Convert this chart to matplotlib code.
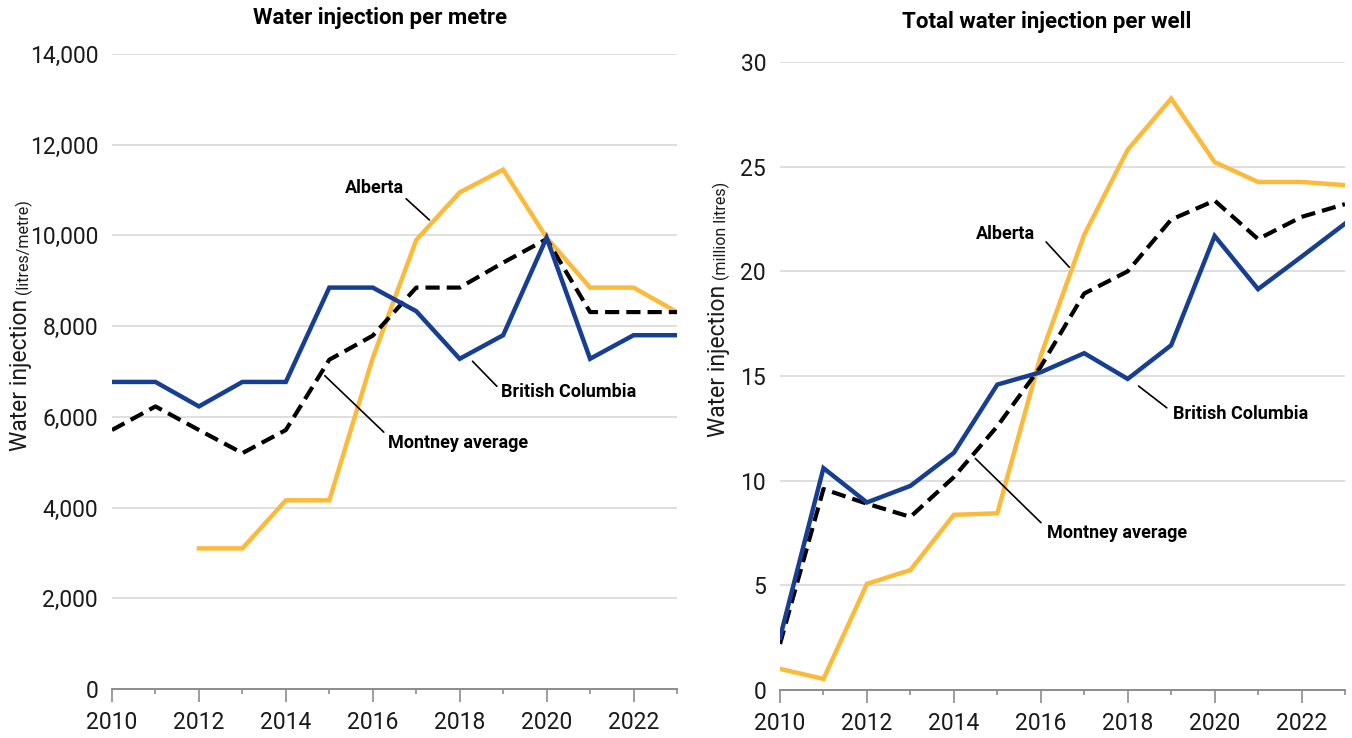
import matplotlib
matplotlib.use("Agg")
import matplotlib.pyplot as plt

plt.rcParams['font.family'] = ['Roboto', 'DejaVu Sans']

years = list(range(2010, 2024))

# Left: water injection per metre (litres/metre)
bc_metre = [6770, 6770, 6230, 6770, 6770, 8850, 8850, 8330, 7280, 7800, 9950, 7280, 7800, 7800]
ab_metre = [None, None, 3100, 3100, 4160, 4160, 7300, 9900, 10950, 11450, 9950, 8850, 8850, 8310]
mt_metre = [5710, 6230, 5710, 5200, 5710, 7260, 7790, 8850, 8850, 9400, 9920, 8310, 8310, 8310]

# Right: total water injection per well (million litres)
bc_well = [2.5, 10.6, 8.96, 9.75, 11.33, 14.59, 15.18, 16.09, 14.86, 16.47, 21.69, 19.15, 20.7, 22.28]
ab_well = [1.01, 0.53, 5.07, 5.73, 8.37, 8.44, 15.98, 21.75, 25.81, 28.25, 25.22, 24.27, 24.27, 24.12]
mt_well = [2.2, 9.6, 8.9, 8.27, 10.17, 12.6, 15.45, 18.94, 20.0, 22.47, 23.38, 21.54, 22.6, 23.21]

left_yticks = [0, 2000, 4000, 6000, 8000, 10000, 12000, 14000]
right_yticks = [0, 5, 10, 15, 20, 25, 30]
xtick_labels = [2010, 2012, 2014, 2016, 2018, 2020, 2022]

YELLOW = '#FDB93A'
BLUE = '#163E93'
BLACK = '#000000'
GRID = '#D9D9D9'
AXIS = '#8C8C8C'

W, H = 1352, 738
fig = plt.figure(figsize=(W / 100, H / 100), dpi=100)


def px_axes(l, r, t, b):
    return fig.add_axes([l / W, 1 - b / H, (r - l) / W, (b - t) / H])


def style(ax, ymax, yticks, fmt):
    ax.set_xlim(2010, 2023)
    ax.set_ylim(0, ymax)
    ax.set_yticks(yticks)
    ax.set_yticklabels([fmt(v) for v in yticks], fontsize=16.5, color='#1a1a1a')
    ax.set_xticks(xtick_labels)
    ax.set_xticklabels([str(v) for v in xtick_labels], fontsize=16.5, color='#1a1a1a')
    ax.set_xticks([y for y in years if y not in xtick_labels], minor=True)
    ax.tick_params(axis='x', which='major', length=9, width=1.2, color=AXIS, pad=7)
    ax.tick_params(axis='x', which='minor', length=3.5, width=1.2, color=AXIS)
    ax.tick_params(axis='y', length=0, pad=10)
    for s in ['top', 'right', 'left']:
        ax.spines[s].set_visible(False)
    ax.spines['bottom'].set_color(AXIS)
    ax.spines['bottom'].set_linewidth(1.4)
    ax.grid(axis='y', color=GRID, linewidth=1.2)
    ax.set_axisbelow(True)


def plot_lines(ax, bc, ab, mt):
    yb = [y for y, v in zip(years, ab) if v is not None]
    vb = [v for v in ab if v is not None]
    ax.plot(yb, vb, color=YELLOW, lw=3.2, solid_joinstyle='miter', zorder=3)
    ax.plot(years, mt, color=BLACK, lw=3.0, ls=(0, (3.4, 1.7)), zorder=4)
    ax.plot(years, bc, color=BLUE, lw=3.2, solid_joinstyle='miter', zorder=5)


def annotate(ax, text, xy_text, xy_line_start, xy_line_end, ha='left'):
    # all in data coords
    ax.annotate('', xy=xy_line_end, xytext=xy_line_start,
                arrowprops=dict(arrowstyle='-', color='black', lw=1.2), zorder=6)
    ax.text(xy_text[0], xy_text[1], text, fontsize=13, fontweight='bold',
            ha=ha, va='center', zorder=7)


# ---- Left chart ----
ax1 = px_axes(112, 677, 54, 689)
style(ax1, 14000, left_yticks, lambda v: f"{v:,}")
plot_lines(ax1, bc_metre, ab_metre, mt_metre)
fig.text(380 / W, 1 - 18 / H, 'Water injection per metre', fontsize=16,
         fontweight='bold', ha='center', va='center')

annotate(ax1, 'Alberta', (2015.35, 11050), (2016.72, 10850), (2017.35, 10300))
annotate(ax1, 'British Columbia', (2018.95, 6550), (2018.25, 7270), (2018.9, 6630))
annotate(ax1, 'Montney average', (2016.35, 5420), (2014.85, 6950), (2016.3, 5620))

# ---- Right chart ----
ax2 = px_axes(780, 1345, 62, 690)
style(ax2, 30, right_yticks, lambda v: f"{v}")
plot_lines(ax2, bc_well, ab_well, mt_well)
fig.text(1047 / W, 1 - 22 / H, 'Total water injection per well', fontsize=16,
         fontweight='bold', ha='center', va='center')

annotate(ax2, 'Alberta', (2014.5, 21.8), (2016.08, 21.5), (2016.7, 20.1))
annotate(ax2, 'British Columbia', (2019.05, 13.2), (2018.2, 14.6), (2018.95, 13.4))
annotate(ax2, 'Montney average', (2016.15, 7.5), (2014.45, 11.15), (2016.05, 7.9))

# ---- Y labels made of two pieces ----
fig.canvas.draw()
renderer = fig.canvas.get_renderer()


def ylabel_two(xpx, ystart_px, main, sub, main_fs=16.5, sub_fs=11.5):
    t1 = fig.text(xpx / W, 1 - ystart_px / H, main, fontsize=main_fs, rotation=90,
                  rotation_mode='anchor', ha='left', va='center', color='#1a1a1a')
    fig.canvas.draw()
    bb = t1.get_window_extent(renderer)
    top = bb.y1  # display coords (pixels from bottom)
    fig.text(xpx / W + 0.0015, (top + 5) / H, sub, fontsize=sub_fs, rotation=90,
             rotation_mode='anchor', ha='left', va='center', color='#1a1a1a')


ylabel_two(21, 451, 'Water injection', '(litres/metre)')
ylabel_two(719, 437, 'Water injection', '(million litres)')

fig.savefig('out.png', dpi=100)
